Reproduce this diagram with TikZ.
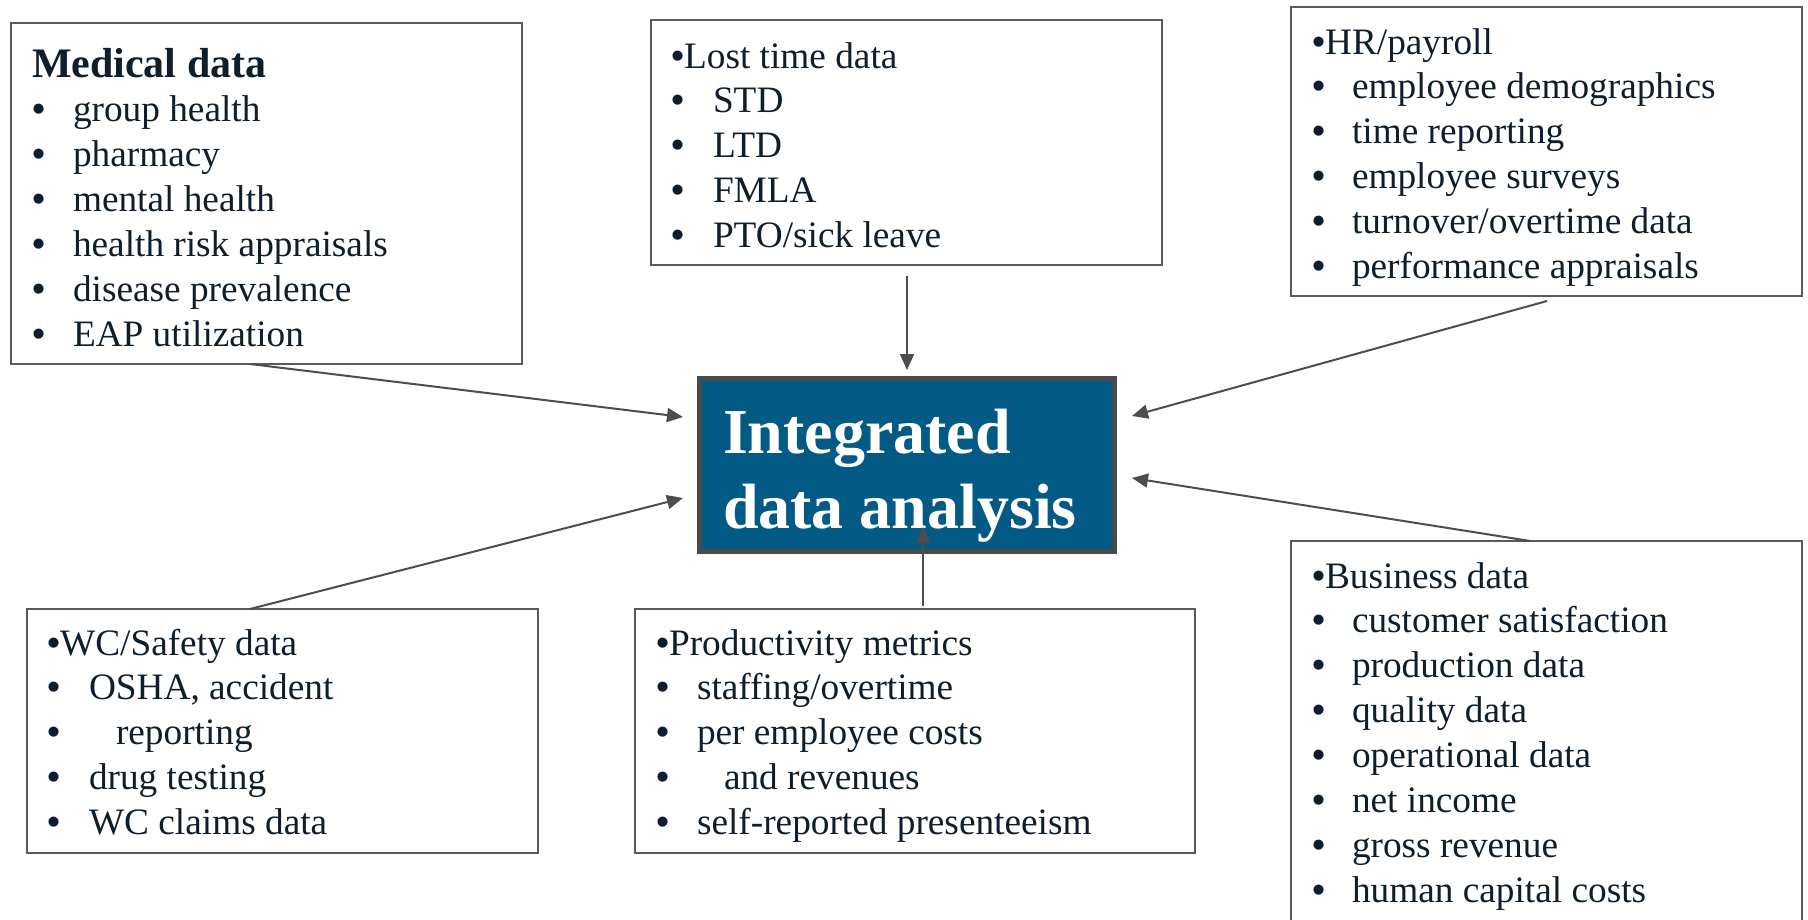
\documentclass[tikz,border=0pt]{standalone}
\usepackage{fontspec}
\setmainfont{Liberation Serif}
\newfontfamily\bulfont{Liberation Sans}
\usetikzlibrary{arrows.meta,calc}
\definecolor{txtc}{HTML}{0F1E2C}
\definecolor{boxc}{HTML}{5A5A5A}
\definecolor{arrc}{HTML}{4D4D4D}
\definecolor{corec}{HTML}{4A4A4A}
\definecolor{cblue}{HTML}{035B85}
\newcommand\itemfont{\fontsize{37.3}{44.9}\selectfont}
\newcommand\bl{{\bulfont •}}
\begin{document}
\begin{tikzpicture}[x=1pt,y=-1pt,
  box/.style={draw=boxc, line width=2.5pt, fill=white, inner sep=0pt, outer sep=0pt, anchor=north west},
  txt/.style={anchor=base west, inner sep=0pt, outer sep=0pt, text=txtc, font=\itemfont},
  arr/.style={draw=arrc, line width=2pt, -{Triangle[length=16pt,width=14pt]}},
  core/.style={draw=corec, line width=5pt, fill=cblue, inner sep=0pt, outer sep=0pt, anchor=north west}]
\useasboundingbox (0,0) rectangle (1808,919);
% boxes
\node[box, minimum width=511pt, minimum height=341pt] (med) at (11,23) {};
\node[box, minimum width=511pt, minimum height=245pt] (lost) at (651,20) {};
\node[box, minimum width=511pt, minimum height=289pt] (hr) at (1291,7) {};
\node[box, minimum width=511pt, minimum height=400pt] (bus) at (1291,541) {};
\node[box, minimum width=511pt, minimum height=244pt] (wc) at (27,609) {};
\node[box, minimum width=560pt, minimum height=244pt] (prod) at (635,609) {};
\node[core, minimum width=415pt, minimum height=173pt] (core) at (699.5,378.5) {};
% texts
\node[txt] (medt) at (32,77) {\begin{tabular}[t]{@{}p{41pt}@{}l@{}}
\multicolumn{2}{@{}l@{}}{\fontsize{42}{46}\selectfont\bfseries Medical data}\\
\bl & group health\\
\bl & pharmacy\\
\bl & mental health\\
\bl & health risk appraisals\\
\bl & disease prevalence\\
\bl & EAP utilization
\end{tabular}};
\node[txt] (lostt) at (671,68) {\begin{tabular}[t]{@{}p{42pt}@{}l@{}}
\multicolumn{2}{@{}l@{}}{\bl Lost time data}\\
\bl & STD\\
\bl & LTD\\
\bl & FMLA\\
\bl & PTO/sick leave
\end{tabular}};
\node[txt] (hrt) at (1312,54) {\begin{tabular}[t]{@{}p{40pt}@{}l@{}}
\multicolumn{2}{@{}l@{}}{\bl HR/payroll}\\
\bl & employee demographics\\
\bl & time reporting\\
\bl & employee surveys\\
\bl & turnover/overtime data\\
\bl & performance appraisals
\end{tabular}};
\node[txt] (bust) at (1312,588) {\begin{tabular}[t]{@{}p{40pt}@{}l@{}}
\multicolumn{2}{@{}l@{}}{\bl Business data}\\
\bl & customer satisfaction\\
\bl & production data\\
\bl & quality data\\
\bl & operational data\\
\bl & net income\\
\bl & gross revenue\\
\bl & human capital costs
\end{tabular}};
\node[txt] (wct) at (47,655) {\begin{tabular}[t]{@{}p{42pt}@{}l@{}}
\multicolumn{2}{@{}l@{}}{\bl WC/Safety data}\\
\bl & OSHA, accident\\
\bl & \hspace{27pt}reporting\\
\bl & drug testing\\
\bl & WC claims data
\end{tabular}};
\node[txt] (prodt) at (656,655) {\begin{tabular}[t]{@{}p{41pt}@{}l@{}}
\multicolumn{2}{@{}l@{}}{\bl Productivity metrics}\\
\bl & staffing/overtime\\
\bl & per employee costs\\
\bl & \hspace{27pt}and revenues\\
\bl & self-reported presenteeism
\end{tabular}};
\node[anchor=base west, inner sep=0pt, outer sep=0pt, text=white, font=\fontsize{64}{75}\selectfont\bfseries] (coret) at (723,453)
  {\begin{tabular}[t]{@{}l@{}}Integrated\\data analysis\end{tabular}};
% connector ends
\coordinate (a1s) at ($(med.south west)+(239,0)$);
\coordinate (a1e) at ($(core.north west)+(-16.5,38.5)$);
\coordinate (a2s) at ($(lost.south west)+(256,11)$);
\coordinate (a2e) at ($(core.north west)+(207.5,-8.5)$);
\coordinate (a3s) at ($(hr.south west)+(256,5)$);
\coordinate (a3e) at ($(core.north east)+(17.5,37.5)$);
\coordinate (a4s) at ($(bus.north west)+(239,0)$);
\coordinate (a4e) at ($(core.north east)+(17.5,99.5)$);
\coordinate (a5s) at ($(wc.north west)+(223,0)$);
\coordinate (a5e) at ($(core.north west)+(-16.5,119.5)$);
\coordinate (a6s) at ($(prod.north west)+(288,-3)$);
\coordinate (a6e) at ($(core.south west)+(223.5,-24.5)$);
\draw[arr] (a1s) -- (a1e);
\draw[arr] (a2s) -- (a2e);
\draw[arr] (a3s) -- (a3e);
\draw[arr] (a4s) -- (a4e);
\draw[arr] (a5s) -- (a5e);
\draw[arr] (a6s) -- (a6e);
\end{tikzpicture}
\end{document}
